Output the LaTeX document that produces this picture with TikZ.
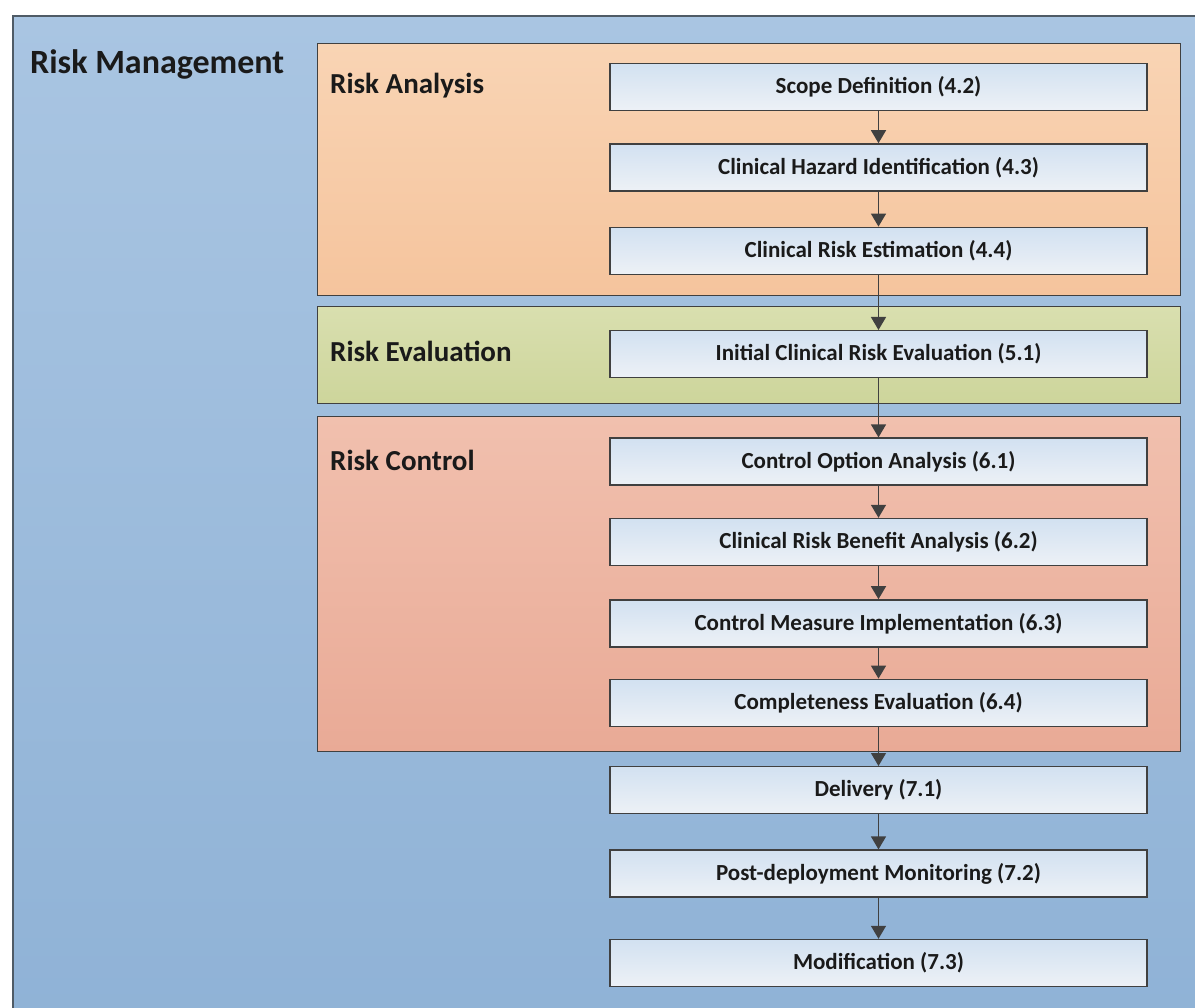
\documentclass[tikz,border=0pt]{standalone}
\usepackage{fontspec}
\setmainfont{Carlito}
\usetikzlibrary{arrows.meta,positioning}
\definecolor{MgmtTop}{HTML}{A9C5E2}
\definecolor{MgmtBot}{HTML}{8FB2D6}
\definecolor{MgmtEdge}{HTML}{4F5B66}
\definecolor{AnaTop}{HTML}{F9D4B4}
\definecolor{AnaBot}{HTML}{F5C49D}
\definecolor{EvaTop}{HTML}{D9DFAF}
\definecolor{EvaBot}{HTML}{CDD59B}
\definecolor{CtlTop}{HTML}{F1C0AE}
\definecolor{CtlBot}{HTML}{E9AA96}
\definecolor{StepTop}{HTML}{D2E1F1}
\definecolor{StepBot}{HTML}{EDF1F6}
\definecolor{EdgeGray}{HTML}{404040}
\definecolor{TextDark}{HTML}{1A1A1A}
\tikzset{
  fase/.style   = {draw=EdgeGray, line width=1.4pt, anchor=north west,
                   inner sep=0pt, minimum width=863pt},
  paso/.style   = {draw=EdgeGray, line width=1.4pt, top color=StepTop,
                   bottom color=StepBot, minimum width=537pt,
                   minimum height=47pt, inner sep=0pt, text=TextDark,
                   font=\fontsize{23}{26}\selectfont\bfseries},
  flecha/.style = {-{Triangle[length=13pt,width=15pt]}, line width=1.4pt,
                   draw=EdgeGray},
  titulo/.style = {anchor=base west, inner sep=0pt, text=TextDark,
                   font=\fontsize{29}{33}\selectfont\bfseries},
}
\begin{document}
\begin{tikzpicture}[x=1pt, y=-1pt]
  \useasboundingbox (0,0) rectangle (1195,1008);
  \fill[white] (0,0) rectangle (1195,1008);
  \clip (0,0) rectangle (1195,1008);
  % outer frame
  \node[draw=MgmtEdge, line width=2pt, anchor=north west, inner sep=0pt,
        top color=MgmtTop, bottom color=MgmtBot,
        minimum width=1220pt, minimum height=1020pt] (rm) at (12,15) {};
  \node[titulo, font=\fontsize{34}{38}\selectfont\bfseries] (lrm) at (30,74) {Risk Management};
  % phases
  \node[fase, minimum height=252pt, top color=AnaTop, bottom color=AnaBot] (ra) at (317,43) {};
  \node[fase, minimum height=97pt, top color=EvaTop, bottom color=EvaBot] (re) at (317,306) {};
  \node[fase, minimum height=335pt, top color=CtlTop, bottom color=CtlBot] (rc) at (317,416) {};
  \node[titulo] (lra) at (330,94) {Risk Analysis};
  \node[titulo] (lre) at (330,362) {Risk Evaluation};
  \node[titulo] (lrc) at (330,470) {Risk Control};
  % steps
  \node[paso] (s1) at (878.5,87) {Scope Definition (4.2)};
  \node[paso, below=32pt of s1] (s2) {Clinical Hazard Identification (4.3)};
  \node[paso, below=35pt of s2] (s3) {Clinical Risk Estimation (4.4)};
  \node[paso, below=55pt of s3] (s4) {Initial Clinical Risk Evaluation (5.1)};
  \node[paso, below=59pt of s4] (s5) {Control Option Analysis (6.1)};
  \node[paso, below=32pt of s5] (s6) {Clinical Risk Benefit Analysis (6.2)};
  \node[paso, below=33pt of s6] (s7) {Control Measure Implementation (6.3)};
  \node[paso, below=31pt of s7] (s8) {Completeness Evaluation (6.4)};
  \node[paso, below=39pt of s8] (s9) {Delivery (7.1)};
  \node[paso, below=35pt of s9] (s10) {Post-deployment Monitoring (7.2)};
  \node[paso, below=41pt of s10] (s11) {Modification (7.3)};
  \foreach \a/\b in {s1/s2,s2/s3,s3/s4,s4/s5,s5/s6,s6/s7,s7/s8,s8/s9,s9/s10,s10/s11}
    \draw[flecha] (\a) -- (\b);
\end{tikzpicture}
\end{document}
